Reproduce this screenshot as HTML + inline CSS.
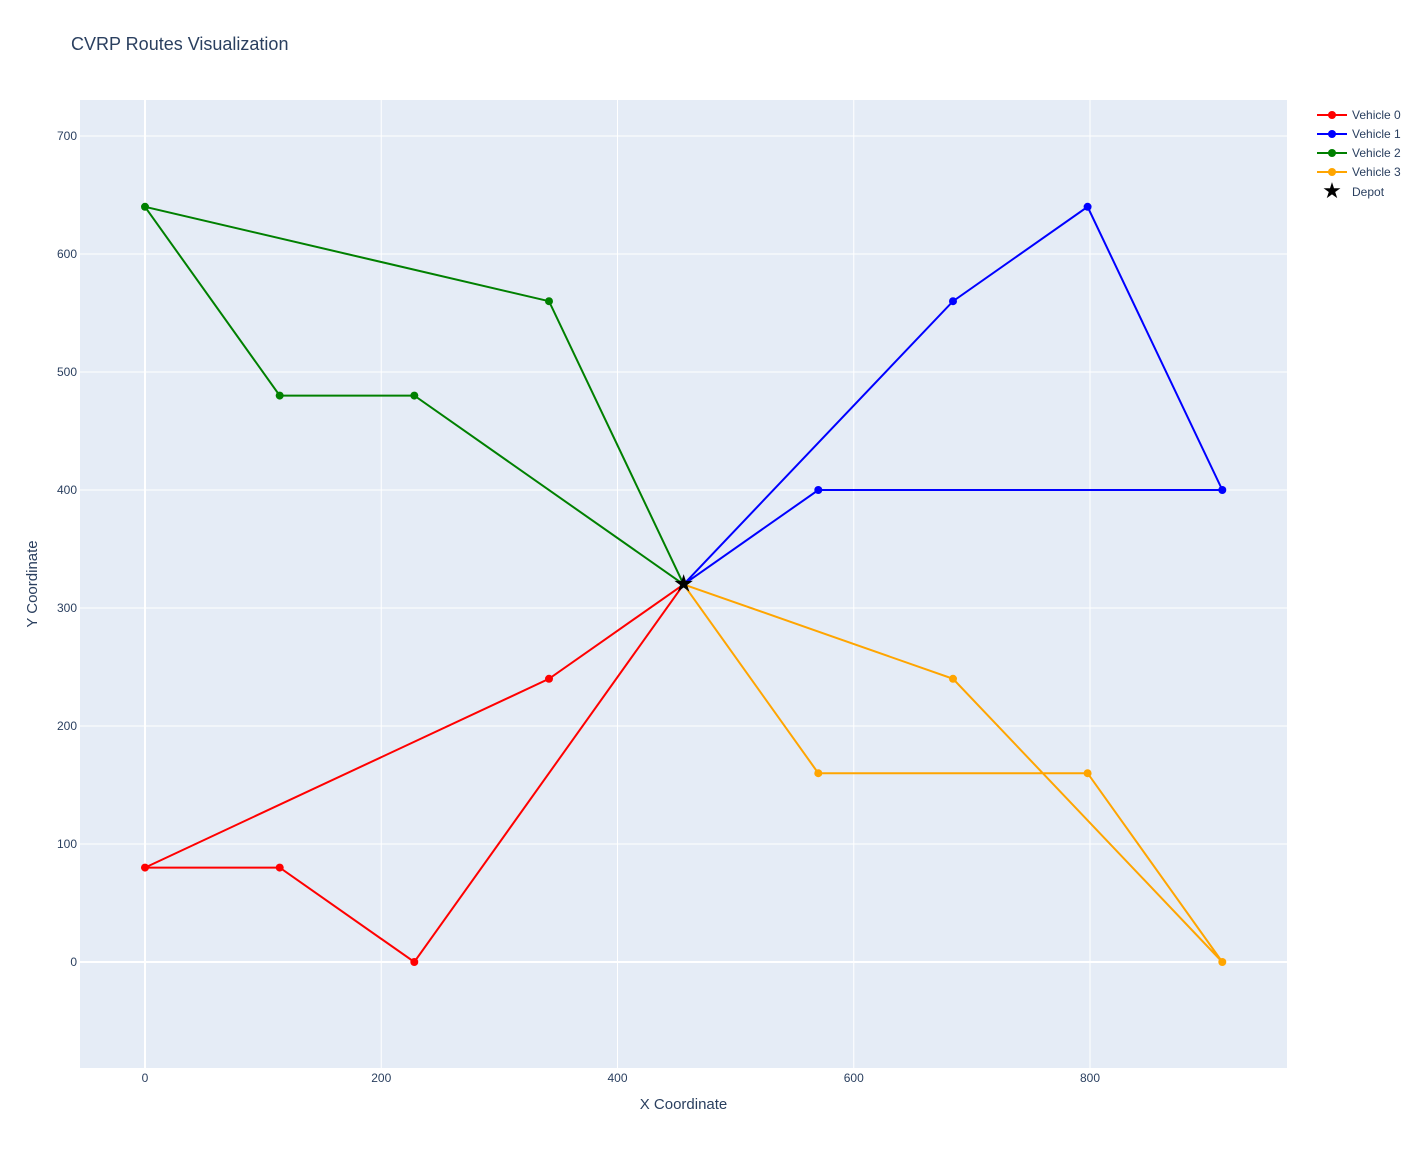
<!DOCTYPE html>
<html><head><meta charset="utf-8"><style>body{margin:0;background:#fff}svg text{font-family:"Liberation Sans",Arial,sans-serif;fill:#2a3f5f}</style></head>
<body>
<svg width="1424" height="1149" xmlns="http://www.w3.org/2000/svg">
<rect x="0" y="0" width="1424" height="1149" fill="#fff"/>
<rect x="80" y="100" width="1207" height="968" fill="#e5ecf6"/>
<g stroke="#fff" stroke-width="1">
<line x1="381.25" y1="100" x2="381.25" y2="1068"/>
<line x1="617.5" y1="100" x2="617.5" y2="1068"/>
<line x1="853.75" y1="100" x2="853.75" y2="1068"/>
<line x1="1090" y1="100" x2="1090" y2="1068"/>
<line x1="80" y1="844" x2="1287" y2="844"/>
<line x1="80" y1="726" x2="1287" y2="726"/>
<line x1="80" y1="608" x2="1287" y2="608"/>
<line x1="80" y1="490" x2="1287" y2="490"/>
<line x1="80" y1="372" x2="1287" y2="372"/>
<line x1="80" y1="254" x2="1287" y2="254"/>
<line x1="80" y1="136" x2="1287" y2="136"/>
</g>
<line x1="145" y1="100" x2="145" y2="1068" stroke="#fff" stroke-width="2"/>
<line x1="80" y1="962" x2="1287" y2="962" stroke="#fff" stroke-width="2"/>
<g font-size="12" text-anchor="middle">
<text x="145" y="1082">0</text><text x="381.25" y="1082">200</text><text x="617.5" y="1082">400</text><text x="853.75" y="1082">600</text><text x="1090" y="1082">800</text>
</g>
<g font-size="12" text-anchor="end">
<text x="77" y="966">0</text><text x="77" y="848">100</text><text x="77" y="730">200</text><text x="77" y="612">300</text><text x="77" y="494">400</text><text x="77" y="376">500</text><text x="77" y="258">600</text><text x="77" y="140">700</text>
</g>
<text x="683.5" y="1109" font-size="15" text-anchor="middle">X Coordinate</text>
<text x="37" y="584" font-size="15" text-anchor="middle" transform="rotate(-90 37 584)">Y Coordinate</text>
<text x="71" y="50" font-size="18">CVRP Routes Visualization</text>
<g fill="none" stroke-width="2">
<polyline stroke="red" points="683.6,584.4 549,678.8 145,867.6 279.7,867.6 414.3,962 683.6,584.4"/>
<polyline stroke="blue" points="683.6,584.4 818.3,490 1222.3,490 1087.6,206.8 953,301.2 683.6,584.4"/>
<polyline stroke="green" points="683.6,584.4 414.3,395.6 279.7,395.6 145,206.8 549,301.2 683.6,584.4"/>
<polyline stroke="orange" points="683.6,584.4 953,678.8 1222.3,962 1087.6,773.2 818.3,773.2 683.6,584.4"/>
</g>
<g fill="red"><circle cx="549" cy="678.8" r="4"/><circle cx="145" cy="867.6" r="4"/><circle cx="279.7" cy="867.6" r="4"/><circle cx="414.3" cy="962" r="4"/></g>
<g fill="blue"><circle cx="818.3" cy="490" r="4"/><circle cx="1222.3" cy="490" r="4"/><circle cx="1087.6" cy="206.8" r="4"/><circle cx="953" cy="301.2" r="4"/></g>
<g fill="green"><circle cx="414.3" cy="395.6" r="4"/><circle cx="279.7" cy="395.6" r="4"/><circle cx="145" cy="206.8" r="4"/><circle cx="549" cy="301.2" r="4"/></g>
<g fill="orange"><circle cx="953" cy="678.8" r="4"/><circle cx="1222.3" cy="962" r="4"/><circle cx="1087.6" cy="773.2" r="4"/><circle cx="818.3" cy="773.2" r="4"/></g>
<text x="683.6" y="591.5" font-size="24" text-anchor="middle" style="fill:#000">★</text>
<g font-size="12">
<line x1="1317" y1="115" x2="1347" y2="115" stroke="red" stroke-width="2"/><circle cx="1332" cy="115" r="4" fill="red"/><text x="1352" y="119">Vehicle 0</text>
<line x1="1317" y1="134" x2="1347" y2="134" stroke="blue" stroke-width="2"/><circle cx="1332" cy="134" r="4" fill="blue"/><text x="1352" y="138">Vehicle 1</text>
<line x1="1317" y1="153" x2="1347" y2="153" stroke="green" stroke-width="2"/><circle cx="1332" cy="153" r="4" fill="green"/><text x="1352" y="157">Vehicle 2</text>
<line x1="1317" y1="172" x2="1347" y2="172" stroke="orange" stroke-width="2"/><circle cx="1332" cy="172" r="4" fill="orange"/><text x="1352" y="176">Vehicle 3</text>
<text x="1332" y="198" font-size="22" text-anchor="middle" style="fill:#000">★</text><text x="1352" y="196">Depot</text>
</g>
</svg>
</body></html>
